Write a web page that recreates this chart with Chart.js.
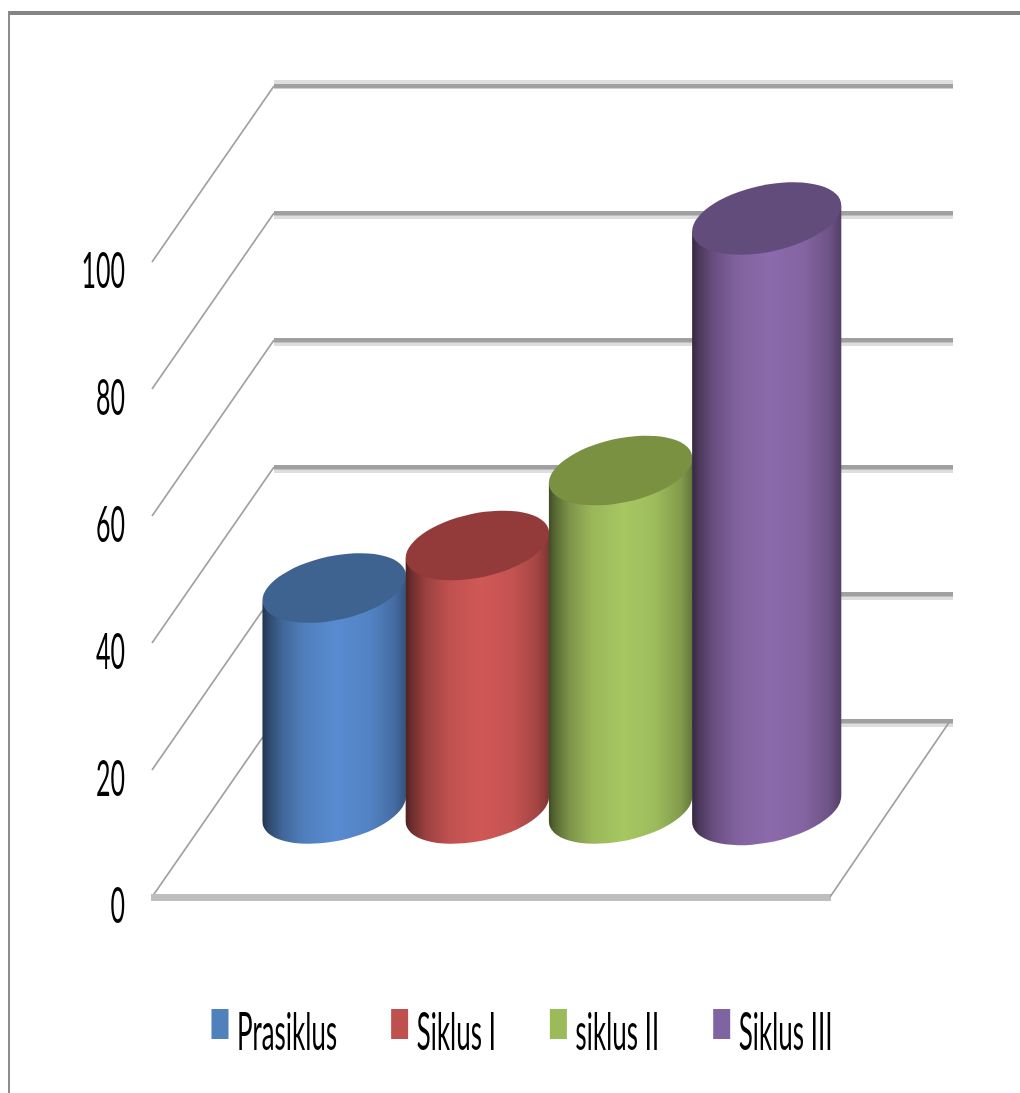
<!DOCTYPE html>
<html>
<head>
<meta charset="utf-8">
<title>Prasiklus - Siklus III</title>
<script src="https://cdn.jsdelivr.net/npm/chart.js@4"></script>
<style>
  html, body { margin: 0; padding: 0; background: #fff; overflow: hidden; }
  #wrap { position: relative; width: 1020px; height: 1093px; }
  /* canvas is twice as wide inside, so the text comes out tall and narrow */
  #chart { position: absolute; left: 0; top: 0; width: 1020px !important; height: 1093px !important; }
  #frame { position: absolute; left: 8px; top: 11px; right: 0; bottom: 0; border-top: 4px solid #858585; border-left: 2px solid #8c8c8c; }
</style>
</head>
<body>
<div id="wrap">
  <canvas id="chart" width="2040" height="1093"></canvas>
  <div id="frame"></div>
</div>
<script>
const categories = [''];
const seriesNames = ['Prasiklus', 'Siklus I', 'siklus II', 'Siklus III'];
const seriesValues = [34.8, 41.5, 53.3, 93];
const tickStep = 20;
const tickMax = 100;

const legendColors = ['#4F81BD', '#C0504D', '#9BBB59', '#8064A2'];
const topColors = ['#3E6390', '#923B3A', '#7B9142', '#624C7C'];
const sideColors = [[88, 139, 208], [208, 88, 86], [167, 199, 98], [140, 106, 172]];
const barWiden = [1, 1, 1, 1.04];
// how much of the side colour is left across the cylinder, left to right
const sideShade = [[0, 0.38], [0.04, 0.52], [0.14, 0.74], [0.3, 0.92], [0.52, 1], [0.75, 0.94], [0.92, 0.78], [1, 0.6]];

const SX = 2;            // canvas px per page px, horizontally
const DEPTH_X = 122;     // floor depth, page px
const DEPTH_Y = 176;
const BAR_SHIFT_X = 58;  // cylinders stand half way back on the floor
const BAR_SHIFT_Y = 88;
const TILT = -12.2 * Math.PI / 180;

function drawCylinder(ctx, bar, i) {
  const w = bar.width / SX * barWiden[i];
  const cx = bar.x / SX + BAR_SHIFT_X + (w - bar.width / SX) / 2;
  const topY = bar.y - BAR_SHIFT_Y;
  const baseY = bar.base - BAR_SHIFT_Y;
  const a = w * 0.51;
  const b = w * 0.223;
  const tR = Math.atan2(-b * Math.sin(TILT), a * Math.cos(TILT));
  const tL = tR + Math.PI;
  const hw = Math.sqrt(a * a * Math.cos(TILT) ** 2 + b * b * Math.sin(TILT) ** 2);
  const rise = (a * a - b * b) * Math.sin(TILT) * Math.cos(TILT) / hw;

  const grad = ctx.createLinearGradient(cx - hw, 0, cx + hw, 0);
  sideShade.forEach(([pos, k]) => {
    const c = sideColors[i].map(v => Math.round(v * k));
    grad.addColorStop(pos, `rgb(${c[0]},${c[1]},${c[2]})`);
  });

  ctx.fillStyle = grad;
  ctx.beginPath();
  ctx.moveTo(cx - hw, topY - rise);
  ctx.ellipse(cx, baseY, a, b, TILT, tL, tR, true);
  ctx.lineTo(cx + hw, topY + rise);
  ctx.closePath();
  ctx.fill();

  ctx.fillStyle = topColors[i];
  ctx.beginPath();
  ctx.ellipse(cx, topY, a, b, TILT, 0, Math.PI * 2);
  ctx.fill();
}

const walls3d = {
  id: 'walls3d',
  afterLayout(chart) {
    // legend sits right of centre and lower than the layout puts it
    const lg = chart.legend;
    const pad = lg.options.labels.padding;
    lg.left = 24;
    lg.right = 2040 + 24;
    lg.top = 1033 - 26 - pad;
    lg.bottom = 1093;
  },
  beforeDatasetsDraw(chart) {
    const ctx = chart.ctx;
    const y = chart.scales.y;
    const left = chart.chartArea.left / SX;
    const right = chart.chartArea.right / SX;
    ctx.save();
    ctx.scale(SX, 1);
    y.ticks.forEach(t => {
      const py = y.getPixelForValue(t.value);
      const by = py - DEPTH_Y;
      // side wall
      ctx.strokeStyle = '#a0a0a0';
      ctx.lineWidth = 1.7;
      ctx.beginPath();
      ctx.moveTo(left, py);
      ctx.lineTo(left + DEPTH_X, by);
      ctx.stroke();
      // back wall
      ctx.fillStyle = '#dedede';
      ctx.fillRect(left + DEPTH_X, t.value === tickMax ? by - 6 : by + 2, right - left + 1, 4);
      ctx.fillStyle = '#a0a0a0';
      ctx.fillRect(left + DEPTH_X, by - 2, right - left + 1, 4.5);
    });
    // floor, front and right edge
    const y0 = y.getPixelForValue(0);
    ctx.fillStyle = '#bebebe';
    ctx.fillRect(left - 1, y0 - 3, right - left + 2, 7);
    ctx.strokeStyle = '#a0a0a0';
    ctx.lineWidth = 1.7;
    ctx.beginPath();
    ctx.moveTo(right, y0);
    ctx.lineTo(right + DEPTH_X - 2, y0 - DEPTH_Y);
    ctx.stroke();
    ctx.restore();
  },
  beforeDatasetDraw() {
    return false;
  },
  afterDatasetsDraw(chart) {
    const ctx = chart.ctx;
    ctx.save();
    ctx.scale(SX, 1);
    chart.data.datasets.forEach((ds, i) => {
      drawCylinder(ctx, chart.getDatasetMeta(i).data[0], i);
    });
    ctx.restore();
  },
  afterDraw(chart) {
    // legend boxes stand a bit higher than the text
    const ctx = chart.ctx;
    chart.legend.legendHitBoxes.forEach((h, i) => {
      ctx.fillStyle = legendColors[i];
      ctx.fillRect(h.left, h.top + h.height / 2 - 24, 34, 30);
    });
  }
};

new Chart(document.getElementById('chart').getContext('2d'), {
  type: 'bar',
  data: {
    labels: categories,
    datasets: seriesNames.map((name, i) => ({
      label: name,
      data: [seriesValues[i]],
      backgroundColor: legendColors[i]
    }))
  },
  options: {
    responsive: false,
    animation: false,
    devicePixelRatio: 1,
    layout: { padding: { left: 0, top: 262, right: 380, bottom: 96 } },
    datasets: { bar: { barPercentage: 1, categoryPercentage: 0.845 } },
    scales: {
      x: { display: false },
      y: {
        min: 0,
        max: tickMax,
        afterFit(scale) { scale.width = 304; },
        border: { display: false },
        grid: { display: false, drawTicks: false },
        ticks: {
          stepSize: tickStep,
          padding: 54,
          labelOffset: 10,
          color: '#000',
          font: { family: 'Lato', size: 50 }
        }
      }
    },
    plugins: {
      tooltip: { enabled: false },
      legend: {
        position: 'bottom',
        maxHeight: 100,
        labels: {
          boxWidth: 25,
          boxHeight: 1,
          padding: 108,
          color: '#000',
          font: { family: 'Lato', size: 52 },
          generateLabels(chart) {
            return Chart.defaults.plugins.legend.labels.generateLabels(chart).map(l => {
              l.fillStyle = 'rgba(0,0,0,0)';
              l.strokeStyle = 'rgba(0,0,0,0)';
              l.lineWidth = 0;
              return l;
            });
          }
        }
      }
    }
  },
  plugins: [walls3d]
});
</script>
</body>
</html>
